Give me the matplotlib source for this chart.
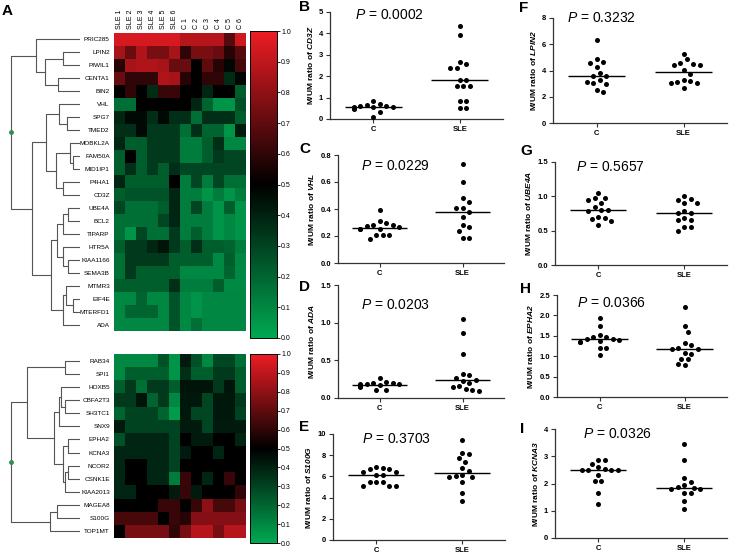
import numpy as np
import matplotlib
matplotlib.use('Agg')
import matplotlib.pyplot as plt
from matplotlib.colors import LinearSegmentedColormap

plt.rcParams['font.family'] = ['Liberation Sans', 'DejaVu Sans']
plt.rcParams['mathtext.fontset'] = 'custom'
plt.rcParams['mathtext.it'] = 'Liberation Sans:italic'
plt.rcParams['mathtext.bf'] = 'Liberation Sans:italic:bold'
plt.rcParams['mathtext.rm'] = 'Liberation Sans'

# ---- heatmap data ----
samples = ['SLE 1', 'SLE 2', 'SLE 3', 'SLE 4', 'SLE 5', 'SLE 6',
           'C 1', 'C 2', 'C 3', 'C 4', 'C 5', 'C 6']

top_genes = ['PRIC285', 'LPIN2', 'PIWIL1', 'CENTA1', 'BIN2', 'VHL', 'SPG7', 'TMED2',
             'MOBKL2A', 'FAM50A', 'MID1IP1', 'P4HA1', 'CD3Z', 'UBE4A', 'BCL2', 'TIPARP',
             'HTR5A', 'KIAA1166', 'SEMA3B', 'MTMR3', 'EIF4E', 'MTERFD1', 'ADA']
top_vals = [
    [0.95, 0.95, 0.95, 0.95, 0.95, 0.95, 0.88, 0.88, 0.88, 0.88, 0.68, 0.93],
    [0.85, 0.72, 0.87, 0.75, 0.75, 0.85, 0.60, 0.75, 0.75, 0.72, 0.58, 0.68],
    [0.58, 0.85, 0.87, 0.87, 0.85, 0.72, 0.72, 0.50, 0.70, 0.58, 0.48, 0.65],
    [0.72, 0.60, 0.60, 0.60, 0.87, 0.85, 0.58, 0.50, 0.60, 0.60, 0.37, 0.48],
    [0.50, 0.60, 0.50, 0.37, 0.62, 0.62, 0.50, 0.50, 0.39, 0.50, 0.50, 0.22],
    [0.17, 0.17, 0.50, 0.50, 0.50, 0.50, 0.50, 0.39, 0.20, 0.06, 0.06, 0.26],
    [0.39, 0.47, 0.47, 0.36, 0.47, 0.36, 0.36, 0.17, 0.36, 0.36, 0.36, 0.22],
    [0.36, 0.36, 0.47, 0.33, 0.33, 0.33, 0.17, 0.36, 0.20, 0.20, 0.06, 0.42],
    [0.39, 0.22, 0.22, 0.33, 0.33, 0.33, 0.13, 0.13, 0.22, 0.36, 0.10, 0.10],
    [0.22, 0.50, 0.22, 0.33, 0.33, 0.33, 0.13, 0.13, 0.22, 0.33, 0.29, 0.29],
    [0.22, 0.36, 0.22, 0.33, 0.22, 0.36, 0.29, 0.29, 0.29, 0.29, 0.29, 0.29],
    [0.39, 0.22, 0.22, 0.22, 0.22, 0.50, 0.13, 0.29, 0.13, 0.29, 0.17, 0.17],
    [0.22, 0.25, 0.25, 0.25, 0.25, 0.39, 0.13, 0.13, 0.06, 0.13, 0.06, 0.13],
    [0.29, 0.17, 0.17, 0.17, 0.22, 0.39, 0.13, 0.29, 0.13, 0.06, 0.22, 0.06],
    [0.17, 0.17, 0.17, 0.17, 0.29, 0.39, 0.13, 0.13, 0.13, 0.06, 0.10, 0.06],
    [0.17, 0.06, 0.29, 0.17, 0.17, 0.33, 0.13, 0.22, 0.13, 0.06, 0.10, 0.06],
    [0.22, 0.33, 0.33, 0.39, 0.44, 0.33, 0.22, 0.36, 0.22, 0.22, 0.20, 0.13],
    [0.17, 0.33, 0.33, 0.33, 0.33, 0.22, 0.22, 0.22, 0.22, 0.09, 0.22, 0.10],
    [0.17, 0.33, 0.22, 0.22, 0.22, 0.22, 0.10, 0.10, 0.10, 0.10, 0.20, 0.09],
    [0.22, 0.22, 0.22, 0.22, 0.22, 0.36, 0.13, 0.13, 0.13, 0.22, 0.09, 0.09],
    [0.10, 0.10, 0.20, 0.10, 0.10, 0.25, 0.10, 0.06, 0.10, 0.10, 0.10, 0.10],
    [0.10, 0.20, 0.20, 0.20, 0.10, 0.25, 0.10, 0.06, 0.10, 0.10, 0.10, 0.10],
    [0.10, 0.10, 0.10, 0.10, 0.10, 0.25, 0.09, 0.17, 0.10, 0.10, 0.10, 0.10],
]

bottom_genes = ['RAB34', 'SPI1', 'HOXB5', 'CBFA2T3', 'SH3TC1', 'SNX9', 'EPHA2', 'KCNA3',
                'NCOR2', 'CSNK1E', 'KIAA2013', 'MAGEA8', 'S100G', 'TOP1MT']
bottom_vals = [
    [0.10, 0.10, 0.10, 0.10, 0.26, 0.06, 0.42, 0.26, 0.10, 0.29, 0.29, 0.17],
    [0.10, 0.22, 0.22, 0.22, 0.22, 0.06, 0.36, 0.22, 0.22, 0.33, 0.33, 0.22],
    [0.22, 0.33, 0.17, 0.33, 0.33, 0.22, 0.44, 0.44, 0.44, 0.33, 0.44, 0.22],
    [0.33, 0.33, 0.44, 0.20, 0.33, 0.10, 0.43, 0.43, 0.29, 0.43, 0.43, 0.33],
    [0.20, 0.30, 0.30, 0.30, 0.20, 0.04, 0.43, 0.29, 0.29, 0.43, 0.43, 0.30],
    [0.42, 0.30, 0.30, 0.30, 0.30, 0.30, 0.42, 0.42, 0.29, 0.42, 0.42, 0.42],
    [0.26, 0.39, 0.39, 0.39, 0.39, 0.30, 0.50, 0.42, 0.42, 0.50, 0.50, 0.39],
    [0.39, 0.39, 0.39, 0.39, 0.39, 0.30, 0.42, 0.50, 0.50, 0.39, 0.50, 0.50],
    [0.39, 0.50, 0.50, 0.39, 0.39, 0.30, 0.50, 0.50, 0.50, 0.50, 0.50, 0.50],
    [0.39, 0.50, 0.50, 0.39, 0.39, 0.13, 0.62, 0.50, 0.39, 0.50, 0.62, 0.50],
    [0.39, 0.39, 0.50, 0.50, 0.50, 0.42, 0.62, 0.42, 0.50, 0.50, 0.50, 0.60],
    [0.50, 0.50, 0.50, 0.50, 0.62, 0.62, 0.50, 0.62, 0.80, 0.65, 0.65, 0.75],
    [0.65, 0.65, 0.65, 0.65, 0.50, 0.62, 0.58, 0.78, 0.78, 0.78, 0.78, 0.78],
    [0.50, 0.75, 0.75, 0.75, 0.75, 0.60, 0.75, 0.88, 0.88, 0.75, 0.88, 0.88],
]

# cluster trees: (left, right, merge height)
top_tree = (
    ('PRIC285', (('LPIN2', 'PIWIL1', 0.24), ('CENTA1', 'BIN2', 0.32), 0.51), 0.64),
    (((('VHL', ('SPG7', 'TMED2', 0.19), 0.31)),
      (('MOBKL2A', ('FAM50A', 'MID1IP1', 0.10), 0.15), ('P4HA1', 'CD3Z', 0.25), 0.35), 0.49),
     (((('UBE4A', 'BCL2', 0.17), 'TIPARP', 0.24),
       ('HTR5A', ('KIAA1166', 'SEMA3B', 0.17), 0.24), 0.33),
      (('MTMR3', ('EIF4E', 'MTERFD1', 0.10), 0.20), 'ADA', 0.25), 0.42), 0.69),
    1.0)

bottom_tree = (
    (('RAB34', 'SPI1', 0.21),
     ((('HOXB5', ('CBFA2T3', 'SH3TC1', 0.22), 0.27), 'SNX9', 0.31),
      (('EPHA2', 'KCNA3', 0.17), (('NCOR2', 'CSNK1E', 0.18), 'KIAA2013', 0.22), 0.25), 0.38),
     0.77),
    (('MAGEA8', 'S100G', 0.33), 'TOP1MT', 0.43),
    1.0)

# ---- scatter panel data ----
cd3z_c = [0.08, 0.35, 0.45, 0.5, 0.52, 0.53, 0.55, 0.55, 0.57, 0.6, 0.62, 0.65, 0.7, 0.85]
cd3z_sle = [4.35, 3.93, 2.65, 2.55, 2.37, 2.37, 1.8, 1.8, 1.52, 1.52, 1.52, 0.85, 0.85, 0.5, 0.5]
vhl_c = [0.39, 0.31, 0.285, 0.275, 0.285, 0.295, 0.25, 0.25, 0.25, 0.27, 0.21, 0.205, 0.21, 0.18]
vhl_sle = [0.73, 0.6, 0.485, 0.455, 0.41, 0.41, 0.375, 0.34, 0.28, 0.27, 0.24, 0.185, 0.185]
ada_c = [0.26, 0.21, 0.2, 0.2, 0.19, 0.18, 0.18, 0.17, 0.17, 0.16, 0.16, 0.15, 0.11, 0.1]
ada_sle = [1.05, 0.86, 0.58, 0.32, 0.3, 0.27, 0.24, 0.23, 0.2, 0.16, 0.15, 0.12, 0.1, 0.09]
s100g_c = [6.9, 6.8, 6.7, 6.7, 6.45, 6.45, 6.15, 6.15, 5.5, 5.5, 5.5, 5.05, 5.05, 5.05]
s100g_sle = [9.45, 8.2, 8.1, 7.7, 7.35, 6.8, 6.5, 6.1, 6.0, 5.95, 5.9, 5.5, 4.4, 3.7]
lpin2_c = [6.3, 4.9, 4.65, 4.55, 4.25, 3.8, 3.55, 3.55, 3.3, 3.15, 3.05, 3.0, 2.55, 2.35]
lpin2_sle = [5.28, 4.85, 4.6, 4.5, 4.45, 4.45, 4.05, 3.7, 3.3, 3.2, 3.15, 3.05, 3.05, 2.67]
ube4a_c = [1.05, 0.98, 0.97, 0.95, 0.9, 0.85, 0.8, 0.8, 0.78, 0.7, 0.68, 0.67, 0.64, 0.58]
ube4a_sle = [1.0, 0.96, 0.95, 0.9, 0.9, 0.78, 0.76, 0.76, 0.68, 0.66, 0.65, 0.55, 0.55, 0.49]
epha2_c = [1.93, 1.75, 1.53, 1.47, 1.47, 1.42, 1.42, 1.4, 1.37, 1.35, 1.35, 1.2, 1.2, 1.03]
epha2_sle = [2.2, 1.73, 1.6, 1.32, 1.27, 1.2, 1.18, 1.17, 1.07, 1.05, 0.93, 0.92, 0.8, 0.78]
kcna3_c = [2.87, 2.85, 2.7, 2.62, 2.52, 2.5, 2.5, 2.48, 2.48, 2.3, 2.1, 2.1, 1.65, 1.25]
kcna3_sle = [3.45, 2.87, 2.2, 2.05, 1.95, 1.88, 1.85, 1.8, 1.78, 1.65, 1.65, 1.37, 1.05]

groups = ['C', 'SLE']

W, H = 740, 554
fig = plt.figure(figsize=(W / 100, H / 100), dpi=100)


def px_axes(l, t, r, b):
    return fig.add_axes([l / W, 1 - b / H, (r - l) / W, (b - t) / H])


cmap = LinearSegmentedColormap.from_list('gbr', [(0.0, (0.0, 0.66, 0.32)),
                                                 (0.5, (0.0, 0.0, 0.0)),
                                                 (1.0, (0.93, 0.11, 0.14))])


def draw_tree(ax, node, order):
    if isinstance(node, str):
        return order.index(node), 0.0
    left, right, h = node
    yl, hl = draw_tree(ax, left, order)
    yr, hr = draw_tree(ax, right, order)
    ax.plot([hl, h, h, hr], [yl, yl, yr, yr], color='#555555', lw=0.8)
    return (yl + yr) / 2, h


def heat_block(genes, vals, tree, top, bottom, cb_top, cb_bottom, col_labels):
    ax = px_axes(114, top, 246, bottom)
    im = ax.imshow(np.array(vals), cmap=cmap, vmin=0, vmax=1, aspect='auto',
                   interpolation='nearest')
    ax.set_yticks(range(len(genes)))
    ax.set_yticklabels(genes, fontsize=4.6, family=['Liberation Sans Narrow', 'Liberation Sans'])
    ax.tick_params(axis='y', length=0, pad=3)
    if col_labels:
        ax.xaxis.tick_top()
        ax.set_xticks(range(len(samples)))
        ax.set_xticklabels(samples, rotation=90, fontsize=5)
        ax.tick_params(axis='x', length=0, pad=3)
    else:
        ax.set_xticks([])
    for sp in ax.spines.values():
        sp.set_visible(False)

    dax = px_axes(8, top, 80, bottom)
    ry, rh = draw_tree(dax, tree, genes)
    dax.plot([rh], [ry], 'o', color='#2f8f4f', ms=2.5)
    dax.set_xlim(1.04, 0)
    dax.set_ylim(len(genes) - 0.5, -0.5)
    dax.axis('off')

    cax = px_axes(250, cb_top, 277, cb_bottom)
    cb = fig.colorbar(im, cax=cax, ticks=np.arange(0, 1.01, 0.1))
    cb.ax.set_yticklabels(['%.1f' % t for t in np.arange(0, 1.01, 0.1)], fontsize=5)
    cb.ax.tick_params(length=2, width=0.6, pad=1)
    cb.outline.set_linewidth(0.7)


heat_block(top_genes, top_vals, top_tree, 33, 331, 31, 338, True)
heat_block(bottom_genes, bottom_vals, bottom_tree, 354, 538, 354, 543, False)
fig.text(2 / W, 1 - 4 / H, 'A', fontsize=11, fontweight='bold', va='top')


def swarm(ax, vals, center, d=6.5):
    pos = ax.get_position()
    xlo, xhi = ax.get_xlim()
    ylo, yhi = ax.get_ylim()
    sx = pos.width * W / (xhi - xlo)
    sy = pos.height * H / (yhi - ylo)
    vals = np.asarray(vals, dtype=float)
    xs = np.zeros(len(vals))
    placed = []
    for i in np.argsort(-vals):
        yp = vals[i] * sy
        for k in [0, 1, -1, 2, -2, 3, -3, 4, -4, 5, -5, 6, -6]:
            xo = k * d / 2
            if all((xo - px) ** 2 + (yp - py) ** 2 >= (d * 0.95) ** 2 for px, py in placed):
                break
        placed.append((xo, yp))
        xs[i] = center + xo / sx
    return xs


panels = [
    ('B', 'CD3Z', '0.0002', cd3z_c, cd3z_sle, [0, 1, 2, 3, 4, 5], '%d', (330, 12, 503, 119), (0.145, 0.97), (299, 0)),
    ('C', 'VHL', '0.0229', vhl_c, vhl_sle, [0, 0.2, 0.4, 0.6, 0.8], '%.1f', (338, 155, 504, 263), (0.14, 0.9), (299, 142)),
    ('D', 'ADA', '0.0203', ada_c, ada_sle, [0, 0.5, 1.0, 1.5], '%.1f', (338, 285, 504, 398), (0.14, 0.82), (299, 280)),
    ('E', 'S100G', '0.3703', s100g_c, s100g_sle, [0, 2, 4, 6, 8, 10], '%d', (333, 434, 505, 540), (0.17, 0.95), (299, 420)),
    ('F', 'LPIN2', '0.3232', lpin2_c, lpin2_sle, [0, 2, 4, 6, 8], '%d', (553, 18, 727, 123), (0.08, 1.0), (519, 1)),
    ('G', 'UBE4A', '0.5657', ube4a_c, ube4a_sle, [0, 0.5, 1.0, 1.5], '%.1f', (555, 162, 727, 265), (0.12, 0.95), (520, 144)),
    ('H', 'EPHA2', '0.0366', epha2_c, epha2_sle, [0, 0.5, 1.0, 1.5, 2.0, 2.5], '%.1f', (557, 295, 727, 397), (0.12, 0.92), (520, 282)),
    ('I', 'KCNA3', '0.0326', kcna3_c, kcna3_sle, [0, 1, 2, 3, 4], '%d', (555, 429, 727, 538), (0.16, 0.95), (520, 422)),
]

for letter, gene, p, cvals, svals, yt, fmt, rect, ptxt, lpos in panels:
    ax = px_axes(*rect)
    ax.set_xlim(0.5, 2.5)
    ax.set_ylim(0, yt[-1])
    for j, vals in enumerate([cvals, svals]):
        x0 = j + 1
        ax.scatter(swarm(ax, vals, x0), vals, s=13, color='black', zorder=3, linewidths=0)
        ax.hlines(np.median(vals), x0 - 0.33, x0 + 0.33, color='black', lw=1)
    ax.set_xticks([1, 2])
    ax.set_xticklabels(groups, fontsize=5.5, fontweight='bold')
    ax.set_yticks(yt)
    ax.set_yticklabels([fmt % t for t in yt], fontsize=5.5, fontweight='bold')
    ax.tick_params(length=3, width=0.8, pad=2, color='#333333')
    for s in ['top', 'right']:
        ax.spines[s].set_visible(False)
    for s in ['left', 'bottom']:
        ax.spines[s].set_linewidth(0.9)
        ax.spines[s].set_color('#333333')
    ax.set_ylabel('M/UM ratio of $\\mathbf{%s}$' % gene, fontsize=6, fontweight='bold', labelpad=3)
    ax.text(ptxt[0], ptxt[1], '$\\mathit{P}$ = ' + p, transform=ax.transAxes,
            fontsize=10, va='center', ha='left')
    fig.text(lpos[0] / W, 1 - lpos[1] / H, letter, fontsize=11, fontweight='bold', va='top')

fig.savefig('out.png', dpi=100)
